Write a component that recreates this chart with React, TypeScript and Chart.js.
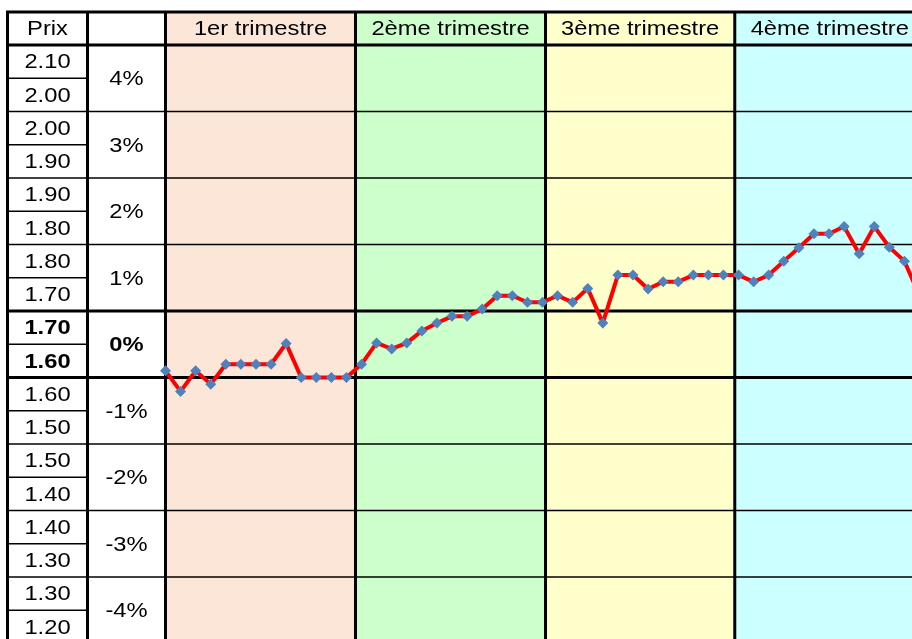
import { useEffect, useRef } from "react";
import { Chart, registerables } from "chart.js";

Chart.register(...registerables);

// ---- data ----
const quarterLabels = ["1er trimestre", "2ème trimestre", "3ème trimestre", "4ème trimestre"];
const quarterColors = ["#FCE6D8", "#CCFFCC", "#FFFFCC", "#CCFFFF"];
// quarter boundaries expressed in week-index units of the x axis
const quarterBounds = [0, 12.6, 25.2, 37.75, 50.35];
const pctLabels = ["4%", "3%", "2%", "1%", "0%", "-1%", "-2%", "-3%", "-4%"];
const rowTopPrices = [2.1, 2.0, 1.9, 1.8, 1.7, 1.6, 1.5, 1.4, 1.3];
const priceHiLabels = ["2.10", "2.00", "1.90", "1.80", "1.70", "1.60", "1.50", "1.40", "1.30"];
const priceLoLabels = ["2.00", "1.90", "1.80", "1.70", "1.60", "1.50", "1.40", "1.30", "1.20"];
const boldRow = 4;
const weeklyPrices = [
  1.610, 1.579, 1.610, 1.590, 1.620, 1.620, 1.620, 1.620, 1.651, 1.600,
  1.600, 1.600, 1.600, 1.620, 1.652, 1.643, 1.652, 1.670, 1.682, 1.692,
  1.692, 1.703, 1.723, 1.723, 1.713, 1.713, 1.723, 1.713, 1.734, 1.682,
  1.754, 1.754, 1.733, 1.744, 1.744, 1.754, 1.754, 1.754, 1.754, 1.744,
  1.754, 1.775, 1.795, 1.816, 1.816, 1.827, 1.786, 1.827, 1.796, 1.775,
  1.723,
];
const priceMin = 1.2;
const priceMax = 2.1;

// ---- styling ----
const HEADER_H = 33;
const PCT_W = 78;
const PRIX_W = 80;
const THIN = 1.5;
const THICK = 3;
const SX = 1.13;
const FONT_PX = 21;

function drawText(ctx: CanvasRenderingContext2D, s: string, x: number, y: number, bold = false) {
  ctx.save();
  ctx.font = `${bold ? "bold " : ""}${FONT_PX}px "Liberation Sans", Arial, sans-serif`;
  ctx.translate(x, y);
  ctx.scale(SX, 1);
  ctx.textAlign = "center";
  ctx.textBaseline = "middle";
  ctx.fillStyle = "#000";
  ctx.fillText(s, 0, 0);
  ctx.restore();
}

function line(ctx: CanvasRenderingContext2D, x1: number, y1: number, x2: number, y2: number, w: number) {
  ctx.save();
  ctx.strokeStyle = "#000";
  ctx.lineWidth = w;
  ctx.beginPath();
  ctx.moveTo(x1, y1);
  ctx.lineTo(x2, y2);
  ctx.stroke();
  ctx.restore();
}

const tablePlugin = {
  id: "tablePlugin",
  beforeDatasetsDraw(chart: any) {
    const ctx: CanvasRenderingContext2D = chart.ctx;
    const area = chart.chartArea;
    const xs = chart.scales.x;
    const ys = chart.scales.y;
    const W = chart.width;
    const H = chart.height;
    const top = area.top - HEADER_H;
    const pctL = area.left - PCT_W;
    const prixL = pctL - PRIX_W;

    ctx.save();
    ctx.fillStyle = "#FFFFFF";
    ctx.fillRect(0, 0, W, H);
    for (let q = 0; q < quarterLabels.length; q++) {
      const x1 = xs.getPixelForValue(quarterBounds[q]);
      const x2 = xs.getPixelForValue(quarterBounds[q + 1]);
      ctx.fillStyle = quarterColors[q];
      ctx.fillRect(x1, top, x2 - x1, H - top);
    }
    ctx.restore();

    for (let r = 0; r < rowTopPrices.length; r++) {
      const yTop = ys.getPixelForValue(rowTopPrices[r]);
      const yBot = ys.getPixelForValue(rowTopPrices[r] - 0.1);
      const yMid = (yTop + yBot) / 2;
      line(ctx, prixL, yMid, pctL, yMid, THIN);
      const thickBottom = r === boldRow || r === boldRow - 1;
      line(ctx, prixL, yBot, W, yBot, thickBottom ? THICK : THIN);
    }
    line(ctx, prixL - THICK / 2, top, W, top, THICK);
    line(ctx, prixL, area.top, W, area.top, THICK);

    const vx = [prixL, pctL, ...quarterBounds.map((b) => xs.getPixelForValue(b))];
    for (const x of vx) line(ctx, x, top, x, H, THICK);

    const hy = top + HEADER_H / 2 + 1;
    drawText(ctx, "Prix", prixL + PRIX_W / 2, hy);
    for (let q = 0; q < quarterLabels.length; q++) {
      const x1 = xs.getPixelForValue(quarterBounds[q]);
      const x2 = xs.getPixelForValue(quarterBounds[q + 1]);
      drawText(ctx, quarterLabels[q], (x1 + x2) / 2, hy);
    }
    for (let r = 0; r < rowTopPrices.length; r++) {
      const yTop = ys.getPixelForValue(rowTopPrices[r]);
      const yBot = ys.getPixelForValue(rowTopPrices[r] - 0.1);
      const yMid = (yTop + yBot) / 2;
      const b = r === boldRow;
      drawText(ctx, priceHiLabels[r], prixL + PRIX_W / 2, (yTop + yMid) / 2 + 1, b);
      drawText(ctx, priceLoLabels[r], prixL + PRIX_W / 2, (yMid + yBot) / 2 + 1, b);
      drawText(ctx, pctLabels[r], pctL + PCT_W / 2, yMid + 1, b);
    }
  },
};

export default function App() {
  const ref = useRef<HTMLCanvasElement | null>(null);

  useEffect(() => {
    if (!ref.current) return;
    const chart = new Chart(ref.current, {
      type: "line",
      data: {
        datasets: [
          {
            data: weeklyPrices.map((v, i) => ({ x: i, y: v })),
            borderColor: "#FF0000",
            borderWidth: 4,
            pointStyle: "rectRot",
            pointRadius: 5.5,
            pointBackgroundColor: "#4F81BD",
            pointBorderColor: "#4F81BD",
            pointBorderWidth: 0,
            tension: 0,
            clip: false as any,
          },
        ],
      },
      options: {
        responsive: false,
        animation: false,
        devicePixelRatio: 1,
        events: [],
        layout: { padding: { left: 165.5, top: 45, right: 10.5, bottom: 6.5 } },
        plugins: { legend: { display: false }, tooltip: { enabled: false } },
        scales: {
          x: { type: "linear", min: 0, max: 50, display: false },
          y: { type: "linear", min: priceMin, max: priceMax, display: false },
        },
      },
      plugins: [tablePlugin],
    });
    return () => chart.destroy();
  }, []);

  return (
    <canvas
      ref={ref}
      width={930}
      height={650}
      style={{ position: "fixed", left: 0, top: 0, width: 930, height: 650, display: "block" }}
    />
  );
}
